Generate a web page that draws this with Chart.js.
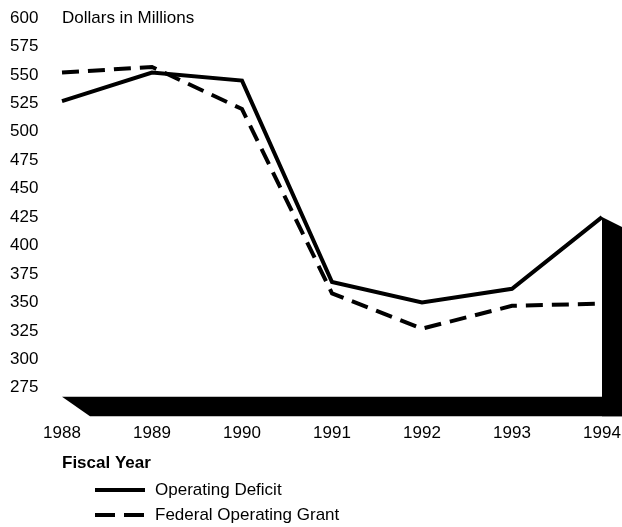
<!DOCTYPE html>
<html>
<head>
<meta charset="utf-8">
<script src="https://cdn.jsdelivr.net/npm/chart.js@4.4.1/dist/chart.umd.min.js"></script>
<style>
  html, body { margin: 0; padding: 0; background: #fff; }
  #wrap { width: 622px; height: 527px; }
</style>
</head>
<body>
<div id="wrap"><canvas id="chart"></canvas></div>
<script>
// fiscal years and values in millions of dollars
const years = ["1988", "1989", "1990", "1991", "1992", "1993", "1994"];
const operatingDeficit = [527, 552, 545, 368, 350, 362, 425];
const federalGrant = [552, 557, 520, 358, 327, 347, 349];
const yTicks = [275, 300, 325, 350, 375, 400, 425, 450, 475, 500, 525, 550, 575, 600];

const FONT = "'Liberation Sans', Arial, sans-serif";

// draws the black "3D" floor and right wall, plus the top label and legend
const decorPlugin = {
  id: "decor",
  afterDraw(chart) {
    const ctx = chart.ctx;
    const x = chart.scales.x, y = chart.scales.y;
    const area = chart.chartArea;
    const xl = x.getPixelForValue(0);
    const xr = x.getPixelForValue(years.length - 1);
    const floorTop = y.getPixelForValue(267);
    const bottom = area.bottom;
    const wallTop = y.getPixelForValue(operatingDeficit[operatingDeficit.length - 1]);

    ctx.save();
    ctx.fillStyle = "#000";
    // floor
    ctx.beginPath();
    ctx.moveTo(xl, floorTop);
    ctx.lineTo(622, floorTop);
    ctx.lineTo(622, bottom);
    ctx.lineTo(xl + 28, bottom);
    ctx.closePath();
    ctx.fill();
    // right wall
    ctx.beginPath();
    ctx.moveTo(xr, wallTop);
    ctx.lineTo(622, wallTop + 10);
    ctx.lineTo(622, bottom);
    ctx.lineTo(xr, bottom);
    ctx.closePath();
    ctx.fill();

    // unit label beside the top tick
    ctx.font = "17px " + FONT;
    ctx.textBaseline = "middle";
    ctx.textAlign = "left";
    ctx.fillText("Dollars in Millions", xl, y.getPixelForValue(600));

    // legend
    ctx.lineWidth = 4;
    ctx.strokeStyle = "#000";
    ctx.beginPath();
    ctx.moveTo(95, 490);
    ctx.lineTo(145, 490);
    ctx.stroke();
    ctx.setLineDash([20, 9]);
    ctx.beginPath();
    ctx.moveTo(95, 515);
    ctx.lineTo(145, 515);
    ctx.stroke();
    ctx.setLineDash([]);
    ctx.font = "17px " + FONT;
    ctx.fillText("Operating Deficit", 155, 490);
    ctx.fillText("Federal Operating Grant", 155, 515);
    ctx.restore();
  }
};

new Chart(document.getElementById("chart"), {
  type: "line",
  data: {
    labels: years,
    datasets: [
      {
        label: "Operating Deficit",
        data: operatingDeficit,
        borderColor: "#000",
        borderWidth: 4,
        pointRadius: 0,
        tension: 0
      },
      {
        label: "Federal Operating Grant",
        data: federalGrant,
        borderColor: "#000",
        borderWidth: 4,
        borderDash: [17, 9],
        pointRadius: 0,
        tension: 0
      }
    ]
  },
  options: {
    responsive: true,
    maintainAspectRatio: false,
    animation: false,
    layout: { padding: { left: 10, right: 20, top: 18, bottom: 49 } },
    plugins: {
      legend: { display: false },
      tooltip: { enabled: false }
    },
    scales: {
      x: {
        offset: false,
        afterFit(scale) { scale.paddingLeft = 0; scale.paddingRight = 0; },
        grid: { display: false, drawTicks: false },
        border: { display: false },
        ticks: { color: "#000", font: { family: FONT, size: 17 }, padding: 7, maxRotation: 0, autoSkip: false },
        title: { display: true, text: "Fiscal Year", align: "start", color: "#000", font: { family: FONT, size: 17, weight: "bold" }, padding: { top: 3 } }
      },
      y: {
        min: 250,
        max: 600,
        afterBuildTicks(scale) {
          scale.ticks = yTicks.map(v => ({ value: v }));
        },
        afterFit(scale) { scale.width = 52; },
        grid: { display: false, drawTicks: false },
        border: { display: false },
        ticks: { color: "#000", font: { family: FONT, size: 17 }, crossAlign: "far", padding: 0 }
      }
    }
  },
  plugins: [decorPlugin]
});
</script>
</body>
</html>
